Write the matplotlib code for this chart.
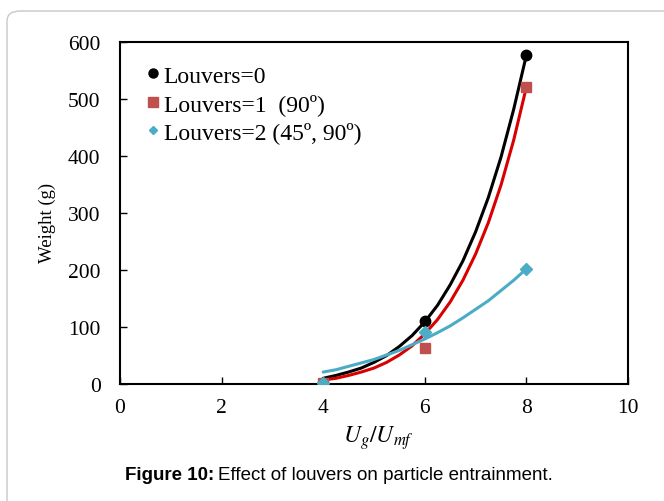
import matplotlib
matplotlib.use("Agg")
import matplotlib.pyplot as plt
from matplotlib.lines import Line2D
from matplotlib.patches import FancyBboxPatch

plt.rcParams['font.family'] = ['Liberation Serif', 'DejaVu Serif']
plt.rcParams['mathtext.fontset'] = 'stix'

# measured points
x_pts = [4, 6, 8]
louvers0 = [2, 110, 577]
louvers1 = [2, 63, 521]
louvers2 = [2, 91, 202]

# trend lines
trend_x = [4, 4.25, 4.5, 4.75, 5, 5.25, 5.5, 5.75, 6,
           6.25, 6.5, 6.75, 7, 7.25, 7.5, 7.75, 8]
trend0 = [10, 15, 21, 28, 38, 50, 66, 85, 109,
          138, 174, 216, 267, 327, 398, 482, 577]
trend1 = [7, 10, 15, 21, 28, 38, 51, 67, 88,
          113, 144, 182, 228, 283, 349, 428, 521]
trend2 = [21, 25, 31, 37, 43, 51, 59, 69, 79,
          90, 102, 116, 131, 146, 164, 182, 202]

labels = ['Louvers=0', 'Louvers=1  (90º)', 'Louvers=2 (45º, 90º)']

colors = {
    'black': '#000000',
    'red_marker': '#C0504D',
    'red_line': '#D80000',
    'cyan': '#4BACC6',
}

fig = plt.figure(figsize=(6.64, 5.02), dpi=100)

# rounded border around the figure
border = FancyBboxPatch((7 / 664, -0.2), 1.2, 1.2 - 12 / 502,
                        boxstyle='round,pad=0,rounding_size=0.02',
                        transform=fig.transFigure, fill=False,
                        edgecolor='#c8c8c8', linewidth=1.0)
fig.patches.append(border)

ax = fig.add_axes([120 / 664, 117 / 502, 508 / 664, 342 / 502])

ax.plot(trend_x, trend0, color=colors['black'], lw=2.2, solid_capstyle='round', zorder=3)
ax.plot(trend_x, trend1, color=colors['red_line'], lw=2.2, solid_capstyle='round', zorder=3)
ax.plot(trend_x, trend2, color=colors['cyan'], lw=2.2, solid_capstyle='round', zorder=3)

ax.plot(x_pts, louvers0, 'o', color=colors['black'], ms=7.5, zorder=4)
ax.plot(x_pts, louvers1, 's', color=colors['red_marker'], ms=7, zorder=4)
ax.plot(x_pts, louvers2, 'D', color=colors['cyan'], ms=6, zorder=5)

ax.set_xlim(0, 10)
ax.set_ylim(0, 600)
ax.set_xticks(range(0, 11, 2))
ax.set_yticks(range(0, 601, 100))
ax.tick_params(direction='in', length=5, width=1, labelsize=15.5)
ax.tick_params(axis='x', pad=10)
ax.tick_params(axis='y', pad=14)
for s in ax.spines.values():
    s.set_linewidth(1.5)

ax.set_ylabel('Weight (g)', fontsize=13.5)
ax.yaxis.set_label_coords(-0.125, 0.475)
ax.set_xlabel('$U_g/U_{mf}$', fontsize=17)
ax.xaxis.set_label_coords(0.508, -0.115)

handles = [
    Line2D([], [], ls='none', marker='o', color=colors['black'], ms=6.5),
    Line2D([], [], ls='none', marker='s', color=colors['red_marker'], ms=6.5),
    Line2D([], [], ls='none', marker='D', color=colors['cyan'], ms=4.5),
]
ax.legend(handles, labels, loc='upper left', bbox_to_anchor=(0.035, 0.96),
          frameon=False, fontsize=17, handlelength=0.5, handletextpad=0.2,
          labelspacing=0.27, borderaxespad=0)

fig.text(214 / 664, 1 - 476 / 502, 'Figure 10:', fontsize=13.5, fontweight='bold',
         family='Liberation Sans', ha='right', va='center')
fig.text(218 / 664, 1 - 476 / 502, 'Effect of louvers on particle entrainment.',
         fontsize=13.5, family='Liberation Sans', ha='left', va='center')

fig.savefig('out.png', dpi=100)
